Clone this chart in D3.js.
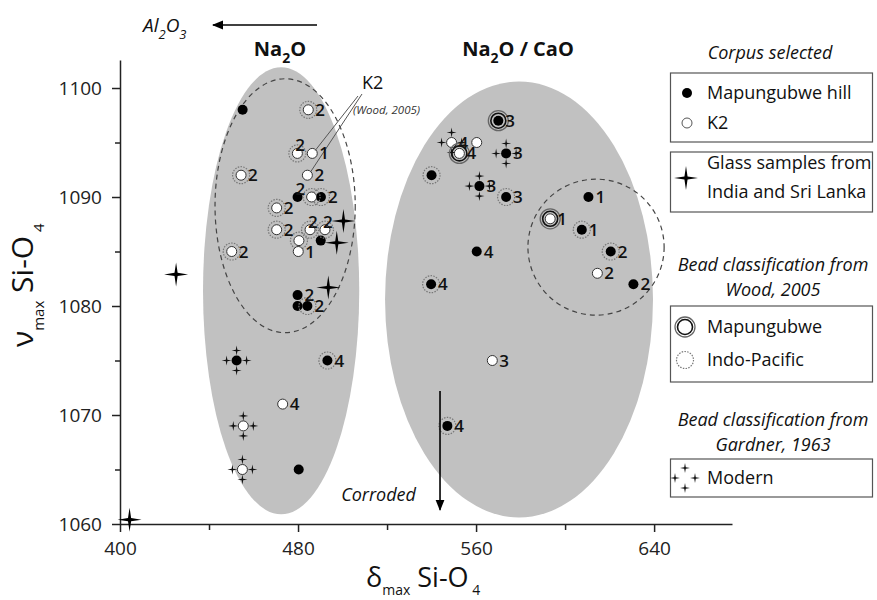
<!DOCTYPE html>
<meta charset="utf-8">
<body style="margin:0;background:#fff">
<style>
text { font-family: "Open Sans", sans-serif; fill: #111; }
.num { font-weight: 600; font-size: 17px; }
.tick text { font-size: 19px; fill: #222; }
.axis path, .axis line { stroke: #222; stroke-width: 1.5px; }
</style>
<script src="https://d3js.org/d3.v7.min.js"></script>
<script>

var xTicks = [400, 480, 560, 640], xMinor = [440, 520, 600];
var yTicks = [1060, 1070, 1080, 1090, 1100], yMinor = [1065, 1075, 1085, 1095];

// [delta max, nu max, bead class ("map", "indo", "mod" or ""), label]
var hill = [
  [455.1, 1098, "", ""], [479.8, 1090, "", "2"], [490.3, 1090, "indo", "2"],
  [490.2, 1086, "", ""], [479.8, 1081, "", "2"], [479.8, 1080, "", ""],
  [484.2, 1080, "indo", "2"], [452.4, 1075, "mod", ""], [493.2, 1075, "indo", "4"],
  [480.3, 1065, "", ""],
  [570.0, 1097, "map", "3"], [573.5, 1094, "mod", "3"], [561.5, 1091, "mod", "3"],
  [573.5, 1090, "indo", "3"], [560.3, 1085, "", "4"], [540.0, 1092, "indo", ""],
  [539.8, 1082, "indo", "4"], [547.1, 1069, "indo", "4"],
  [610.5, 1090, "", "1"], [607.5, 1087, "indo", "1"], [620.5, 1085, "indo", "2"],
  [630.7, 1082, "", "2"]
];
var k2 = [
  [484.6, 1098, "indo", "2"], [479.7, 1094, "indo", "2"], [486.4, 1094, "", "1"],
  [454.4, 1092, "indo", "2"], [484.2, 1092, "", "2"], [486.1, 1090, "indo", ""],
  [470.4, 1089, "indo", "2"], [470.4, 1087, "indo", "2"], [485.4, 1087, "indo", "2"],
  [492.1, 1087, "indo", "2"], [480.4, 1086, "indo", ""], [480.1, 1085, "", "1"],
  [450.2, 1085, "indo", "2"], [473.1, 1071, "", "4"], [455.4, 1069, "mod", ""],
  [455.0, 1065, "mod", ""],
  [549.0, 1095, "mod", "4"], [560.3, 1095, "", ""], [552.5, 1094, "map", "4"],
  [567.3, 1075, "", "3"], [593.3, 1088, "map", "1"], [614.5, 1083, "", "2"]
];
// glass samples from India and Sri Lanka
var glass = [[404.3, 1060.4], [425.2, 1082.9], [500.4, 1087.8], [497.4, 1085.8], [493.6, 1081.7]];
// points whose number sits above instead of to the right
var labelAbove = [[479.7, 1094], [479.8, 1090], [485.4, 1087], [492.1, 1087]];

// shaded groups and dashed K2 / Wood groups: [cx, cy, rx, ry] in data units
var groups = [[472.4, 1081.4, 35.1, 20.5], [579.3, 1080.6, 60.2, 20.0]];
var dashed = [[474.2, 1089.2, 31.5, 11.65], [613.9, 1085.4, 30.6, 6.24]];

var svg = d3.select("body").append("svg")
    .attr("width", 877)
    .attr("height", 600);

var x = d3.scaleLinear().domain([400, 675]).range([120, 732]);
var y = d3.scaleLinear().domain([1060, 1102.57]).range([524, 60]);

function ell(g, d) {
  return g.append("ellipse")
      .attr("cx", x(d[0])).attr("cy", y(d[1]))
      .attr("rx", x(d[0] + d[2]) - x(d[0]))
      .attr("ry", y(d[1]) - y(d[1] + d[3]));
}
groups.forEach(function(d) { ell(svg, d).attr("fill", "#c1c1c1"); });
dashed.forEach(function(d) {
  ell(svg, d).attr("fill", "none").attr("stroke", "#444")
      .attr("stroke-width", 1.2).attr("stroke-dasharray", "5,4");
});

// axes
svg.append("g").attr("class", "axis")
    .attr("transform", "translate(0,524)")
    .call(d3.axisBottom(x).tickValues(xTicks).tickSize(8).tickSizeOuter(0).tickPadding(10).tickFormat(d3.format("d")));
svg.append("g").attr("class", "axis")
    .attr("transform", "translate(0,524)")
    .call(d3.axisBottom(x).tickValues(xMinor).tickSize(6).tickSizeOuter(0).tickFormat(""))
    .select(".domain").remove();
svg.append("g").attr("class", "axis")
    .attr("transform", "translate(120,0)")
    .call(d3.axisLeft(y).tickValues(yTicks).tickSize(8).tickSizeOuter(0).tickPadding(10).tickFormat(d3.format("d")));
svg.append("g").attr("class", "axis")
    .attr("transform", "translate(120,0)")
    .call(d3.axisLeft(y).tickValues(yMinor).tickSize(5).tickSizeOuter(0).tickFormat(""))
    .select(".domain").remove();

function starPath(R, r) {
  var p = [];
  for (var i = 0; i < 8; i++) {
    var a = i * Math.PI / 4 - Math.PI / 2, k = i % 2 ? r : R;
    p.push([k * Math.cos(a), k * Math.sin(a)]);
  }
  return "M" + p.join("L") + "Z";
}

function modern(g, cx, cy) {
  [[0, -10], [0, 10], [-10, 0], [10, 0]].forEach(function(o) {
    g.append("path").attr("d", starPath(5, 1.1))
        .attr("transform", "translate(" + (cx + o[0]) + "," + (cy + o[1]) + ")")
        .attr("fill", "#111");
  });
}
function ring(g, cx, cy, cls) {
  if (cls == "indo") {
    g.append("circle").attr("cx", cx).attr("cy", cy).attr("r", 8.5)
        .attr("fill", "none").attr("stroke", "#777").attr("stroke-width", 1.2)
        .attr("stroke-dasharray", "1.5,1.3");
  } else if (cls == "map") {
    g.append("circle").attr("cx", cx).attr("cy", cy).attr("r", 10)
        .attr("fill", "none").attr("stroke", "#666").attr("stroke-width", 1.3);
    g.append("circle").attr("cx", cx).attr("cy", cy).attr("r", 7.5)
        .attr("fill", "none").attr("stroke", "#111").attr("stroke-width", 1.6);
  } else if (cls == "mod") {
    modern(g, cx, cy);
  }
}
function dot(g, cx, cy, black) {
  g.append("circle").attr("cx", cx).attr("cy", cy).attr("r", 5)
      .attr("fill", black ? "#000" : "#fff")
      .attr("stroke", black ? "none" : "#333").attr("stroke-width", 1);
}

var pts = svg.append("g");
[[hill, true], [k2, false]].forEach(function(s) {
  s[0].forEach(function(d) {
    var cx = x(d[0]), cy = y(d[1]);
    ring(pts, cx, cy, d[2]);
    dot(pts, cx, cy, s[1]);
  });
});

// K2 annotation
svg.append("line").attr("x1", 358).attr("y1", 96).attr("x2", x(486.4) + 3).attr("y2", y(1094) - 3)
    .attr("stroke", "#555").attr("stroke-width", 1);
svg.append("line").attr("x1", 362).attr("y1", 94).attr("x2", x(484.2) + 3).attr("y2", y(1092) - 3)
    .attr("stroke", "#555").attr("stroke-width", 1);
svg.append("text").attr("x", 362).attr("y", 89).style("font-size", "18px").text("K2");
svg.append("text").attr("x", 353).attr("y", 114).style("font-size", "11.5px")
    .style("font-style", "italic").style("fill", "#333").text("(Wood, 2005)");

// number labels
var above = labelAbove.map(function(d) { return d.join("|"); });
hill.concat(k2).forEach(function(d) {
  if (!d[3]) return;
  var up = above.indexOf(d[0] + "|" + d[1]) >= 0;
  svg.append("text").attr("class", "num")
      .attr("x", x(d[0]) + (up ? -2 : 7))
      .attr("y", y(d[1]) + (up ? -2 : 6))
      .text(d[3]);
});

glass.forEach(function(d) {
  svg.append("path").attr("d", starPath(12, 2.2))
      .attr("transform", "translate(" + x(d[0]) + "," + y(d[1]) + ")")
      .attr("fill", "#000");
});

// corroded arrow
svg.append("defs").append("marker").attr("id", "ah")
    .attr("viewBox", "0 0 10 10").attr("refX", 9).attr("refY", 5)
    .attr("markerWidth", 7).attr("markerHeight", 7).attr("orient", "auto")
  .append("path").attr("d", "M0,1L10,5L0,9Z").attr("fill", "#000");
svg.append("line").attr("x1", x(543.8)).attr("y1", y(1072.2)).attr("x2", x(543.8)).attr("y2", y(1061.3))
    .attr("stroke", "#000").attr("stroke-width", 1.6).attr("marker-end", "url(#ah)");
svg.append("text").attr("x", 416).attr("y", 501).attr("text-anchor", "end")
    .style("font-size", "18px").style("font-style", "italic").text("Corroded");

// subscripted text helper
function rich(g, parts, size, subSize, shift) {
  var t = g.append("text");
  parts.forEach(function(p) {
    var s = t.append("tspan").text(p[0]);
    if (p[1]) s.style("font-size", subSize + "px").attr("dy", shift);
    else s.style("font-size", size + "px").attr("dy", p[2] || 0);
  });
  return t;
}

// Al2O3 arrow
svg.append("line").attr("x1", 317).attr("y1", 25).attr("x2", 213).attr("y2", 25)
    .attr("stroke", "#000").attr("stroke-width", 1.6).attr("marker-end", "url(#ah)");
rich(svg, [["Al"], ["2", 1], ["O", 0, -7], ["3", 1]], 19, 13, 7)
    .attr("x", 143).attr("y", 32).style("font-style", "italic");

rich(svg, [["Na"], ["2", 1], ["O", 0, -7]], 20, 14, 7)
    .attr("x", 280).attr("y", 56).attr("text-anchor", "middle").style("font-weight", "bold");
rich(svg, [["Na"], ["2", 1], ["O / CaO", 0, -7]], 20, 14, 7)
    .attr("x", 518).attr("y", 56).attr("text-anchor", "middle").style("font-weight", "bold");

// axis titles
rich(svg, [["δ"], ["max", 1], [" Si-O", 0, -8], [" 4", 1]], 27, 14, 8)
    .attr("x", 366).attr("y", 587);
var yt = svg.append("g").attr("transform", "translate(33,347) rotate(-90)");
rich(yt, [["ν"], ["max", 1], [" Si-O", 0, -11], [" 4", 1]], 30, 15, 11)
    .attr("x", 0).attr("y", 0);

// legend
var lg = svg.append("g");
function box(y0, y1) {
  lg.append("rect").attr("x", 670.5).attr("y", y0).attr("width", 202).attr("height", y1 - y0)
      .attr("fill", "#fff").attr("stroke", "#555").attr("stroke-width", 1.2);
}
function ltext(tx, ty, s, cls) {
  var t = lg.append("text").attr("x", tx).attr("y", ty).style("font-size", "18px").text(s);
  if (cls) t.attr("text-anchor", "middle").style("font-style", "italic");
  return t;
}
ltext(770, 59, "Corpus selected", 1);
box(73, 142);
dot(lg, 687, 93, true);
ltext(707, 99, "Mapungubwe hill");
lg.append("circle").attr("cx", 687).attr("cy", 123).attr("r", 5).attr("fill", "#fff").attr("stroke", "#555");
ltext(707, 129, "K2");
box(152, 212);
lg.append("path").attr("d", starPath(12, 2.2)).attr("transform", "translate(686,178)");
ltext(707, 169, "Glass samples from");
ltext(707, 198, "India and Sri Lanka");

ltext(773, 271, "Bead classification from", 1);
ltext(773, 296, "Wood, 2005", 1);
box(306, 382);
ring(lg, 685, 327, "map");
ltext(707, 333, "Mapungubwe");
ring(lg, 685, 360, "indo");
ltext(707, 366, "Indo-Pacific");

ltext(773, 426, "Bead classification from", 1);
ltext(773, 451, "Gardner, 1963", 1);
box(459, 497);
modern(lg, 685, 478);
ltext(707, 484, "Modern");

</script>
</body>
</html>
